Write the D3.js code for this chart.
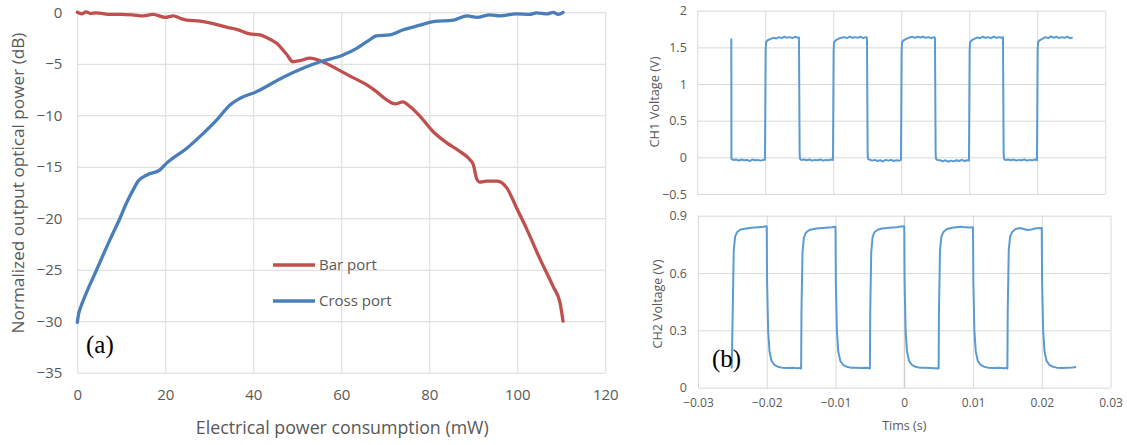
<!DOCTYPE html>
<html>
<head>
<meta charset="utf-8">
<script src="https://cdn.jsdelivr.net/npm/d3@7"></script>
<style>
  html, body { margin: 0; padding: 0; background: #fff; }
  svg { display: block; }
  text { font-family: "Open Sans", "Noto Sans", sans-serif; fill: #595959; }
  .grid line { stroke: #d9d9d9; stroke-width: 1; }
  .grid path { display: none; }
  .ticks path, .ticks line { display: none; }
</style>
</head>
<body>
<svg id="chart" width="1127" height="445"></svg>
<script>
// ---------- (a) switching curves: [power (mW), normalized output (dB)] ----------
const barPort = [
  [0, 0], [1, -0.15], [2, 0.05], [3, -0.12], [4.2, -0.05], [5.5, -0.1], [7.4, -0.2],
  [10, -0.2], [12.5, -0.25], [15, -0.35], [17.2, -0.2], [20, -0.5], [21.8, -0.35],
  [23.5, -0.6], [24.9, -0.75], [27.9, -0.85], [30.9, -1.1], [33.9, -1.45], [36.2, -1.65],
  [39.2, -2.1], [41.5, -2.2], [43, -2.45], [45.3, -3.0], [47.6, -4.1], [49, -4.8],
  [50.6, -4.7], [52.9, -4.45], [55.2, -4.7], [58.1, -5.3], [62, -6.2], [65.8, -7.05],
  [68, -7.7], [70.3, -8.5], [72.2, -8.9], [74, -8.7], [75.6, -9.15], [77.9, -10.1],
  [80.9, -11.6], [83.9, -12.65], [86.9, -13.5], [89.2, -14.3], [90, -14.8], [90.8, -16.2],
  [91.5, -16.5], [93, -16.4], [95.5, -16.4], [97.6, -17.05], [100, -19.15], [102.2, -21.1],
  [105.2, -24], [108.1, -26.6], [109.7, -28.2], [110.4, -30]
];
const crossPort = [
  [0, -30.1], [0.3, -29.3], [0.8, -28.6], [2.1, -27.2], [4.4, -25], [7.4, -22.1],
  [9.7, -20.0], [11.2, -18.5], [13.0, -17.0], [13.8, -16.4], [15.8, -15.8], [18.8, -15.3],
  [20.3, -14.65], [24.9, -13.2], [27.9, -12.05], [31.7, -10.45], [34.7, -9.0], [37, -8.35],
  [40.8, -7.7], [46.8, -6.3], [51.4, -5.4], [55.2, -4.8], [60.4, -4.15], [63.5, -3.5],
  [66, -2.8], [68, -2.3], [71, -2.2], [74.1, -1.7], [77.9, -1.25], [80.9, -0.9],
  [85.5, -0.75], [88.6, -0.35], [90.8, -0.5], [93.8, -0.25], [96, -0.35], [99.8, -0.15],
  [102.8, -0.2], [104.4, -0.05], [106.7, -0.15], [108.2, 0], [109.3, -0.2], [110.4, 0]
];
const powerTicks = [0, 20, 40, 60, 80, 100, 120];
const dbTicks = [0, -5, -10, -15, -20, -25, -30, -35];
const seriesNames = ["Bar port", "Cross port"];

// ---------- (b) oscilloscope traces: [time (s), voltage (V)] ----------
const ch1Trace = [
  [-0.0250, 1.62], [-0.02498, -0.02],
  [-0.0247, -0.035], [-0.0243, -0.03], [-0.0239, -0.045], [-0.0235, -0.03], [-0.0231, -0.04],
  [-0.0227, -0.035], [-0.0223, -0.05], [-0.0219, -0.03], [-0.0215, -0.04], [-0.0211, -0.035],
  [-0.0207, -0.045], [-0.0203, -0.035], [-0.02005, -0.03],
  [-0.01995, 1.45], [-0.0199, 1.57], [-0.0196, 1.60], [-0.0192, 1.615],
  [-0.0188, 1.63], [-0.0184, 1.62], [-0.0180, 1.64], [-0.0176, 1.625], [-0.0172, 1.645],
  [-0.0168, 1.63], [-0.0164, 1.64], [-0.0160, 1.625], [-0.0156, 1.645], [-0.0152, 1.63], [-0.01505, 1.635],
  [-0.01495, 0.05], [-0.0149, -0.02],
  [-0.0147, -0.035], [-0.0143, -0.03], [-0.0139, -0.04], [-0.0135, -0.03], [-0.0131, -0.045],
  [-0.0127, -0.035], [-0.0123, -0.04], [-0.0119, -0.03], [-0.0115, -0.045], [-0.0111, -0.035],
  [-0.0107, -0.04], [-0.0103, -0.03], [-0.01005, -0.035],
  [-0.00995, 1.45], [-0.0099, 1.57], [-0.0096, 1.60], [-0.0092, 1.62],
  [-0.0088, 1.63], [-0.0084, 1.64], [-0.0080, 1.625], [-0.0076, 1.645], [-0.0072, 1.63],
  [-0.0068, 1.64], [-0.0064, 1.63], [-0.0060, 1.645], [-0.0056, 1.625], [-0.0052, 1.64], [-0.00505, 1.63],
  [-0.00495, 0.05], [-0.0049, -0.02],
  [-0.0047, -0.03], [-0.0043, -0.045], [-0.0039, -0.035], [-0.0035, -0.05], [-0.0031, -0.04],
  [-0.0027, -0.055], [-0.0023, -0.035], [-0.0019, -0.045], [-0.0015, -0.035], [-0.0011, -0.05],
  [-0.0007, -0.04], [-0.0003, -0.045], [-0.00005, -0.035],
  [0.00005, 1.45], [0.0001, 1.57], [0.0004, 1.60], [0.0008, 1.62],
  [0.0012, 1.635], [0.0016, 1.645], [0.0020, 1.63], [0.0024, 1.645], [0.0028, 1.635],
  [0.0032, 1.645], [0.0036, 1.63], [0.0040, 1.64], [0.0044, 1.625], [0.0048, 1.64], [0.00495, 1.63],
  [0.00505, 0.05], [0.0051, -0.02],
  [0.0053, -0.035], [0.0057, -0.04], [0.0061, -0.055], [0.0065, -0.04], [0.0069, -0.06],
  [0.0073, -0.045], [0.0077, -0.055], [0.0081, -0.04], [0.0085, -0.05], [0.0089, -0.035],
  [0.0093, -0.05], [0.0097, -0.04], [0.00995, -0.045],
  [0.01005, 1.45], [0.0101, 1.57], [0.0104, 1.60], [0.0108, 1.62],
  [0.0112, 1.635], [0.0116, 1.625], [0.0120, 1.645], [0.0124, 1.63], [0.0128, 1.64],
  [0.0132, 1.625], [0.0136, 1.645], [0.0140, 1.63], [0.0144, 1.64], [0.0148, 1.63], [0.01495, 1.64],
  [0.01505, 0.05], [0.0151, -0.02],
  [0.0153, -0.035], [0.0157, -0.03], [0.0161, -0.04], [0.0165, -0.03], [0.0169, -0.045],
  [0.0173, -0.035], [0.0177, -0.04], [0.0181, -0.03], [0.0185, -0.045], [0.0189, -0.035],
  [0.0193, -0.04], [0.0197, -0.03], [0.01995, -0.04],
  [0.02005, 1.45], [0.0201, 1.57], [0.0204, 1.60], [0.0208, 1.62],
  [0.0212, 1.64], [0.0216, 1.625], [0.0220, 1.65], [0.0224, 1.63], [0.0228, 1.645],
  [0.0232, 1.625], [0.0236, 1.64], [0.0240, 1.63], [0.0244, 1.645], [0.0248, 1.625], [0.0252, 1.635]
];
const ch2Trace = [
  [-0.0251, 0.10], [-0.02495, 0.40], [-0.0248, 0.72], [-0.0246, 0.79], [-0.0243, 0.815],
  [-0.0238, 0.828], [-0.0232, 0.832], [-0.0225, 0.836], [-0.0218, 0.838], [-0.0211, 0.84],
  [-0.0205, 0.842], [-0.02005, 0.845],
  [-0.0200, 0.84], [-0.01995, 0.55], [-0.0198, 0.30], [-0.0196, 0.19], [-0.0193, 0.14],
  [-0.0189, 0.12], [-0.0184, 0.11], [-0.0178, 0.105], [-0.0170, 0.103], [-0.0162, 0.105],
  [-0.0155, 0.102], [-0.01505, 0.104],
  [-0.0150, 0.10], [-0.01495, 0.40], [-0.0148, 0.71], [-0.0146, 0.785], [-0.0143, 0.812],
  [-0.0138, 0.825], [-0.0132, 0.83], [-0.0125, 0.834], [-0.0118, 0.836], [-0.0111, 0.838],
  [-0.0105, 0.84], [-0.01005, 0.842],
  [-0.0100, 0.84], [-0.00995, 0.55], [-0.0098, 0.30], [-0.0096, 0.19], [-0.0093, 0.14],
  [-0.0089, 0.12], [-0.0084, 0.11], [-0.0078, 0.105], [-0.0070, 0.104], [-0.0062, 0.103],
  [-0.0055, 0.104], [-0.00505, 0.102],
  [-0.0050, 0.10], [-0.00495, 0.40], [-0.0048, 0.71], [-0.0046, 0.79], [-0.0043, 0.815],
  [-0.0038, 0.828], [-0.0032, 0.833], [-0.0025, 0.836], [-0.0018, 0.838], [-0.0011, 0.84],
  [-0.0005, 0.843], [-0.00005, 0.845],
  [0.0000, 0.84], [0.00005, 0.55], [0.0002, 0.30], [0.0004, 0.19], [0.0007, 0.14],
  [0.0011, 0.12], [0.0016, 0.11], [0.0022, 0.105], [0.0030, 0.104], [0.0038, 0.103],
  [0.0045, 0.102], [0.00495, 0.10],
  [0.0050, 0.10], [0.00505, 0.40], [0.0052, 0.72], [0.0054, 0.79], [0.0057, 0.815],
  [0.0062, 0.83], [0.0068, 0.836], [0.0075, 0.84], [0.0082, 0.842], [0.0089, 0.84],
  [0.0095, 0.838], [0.00995, 0.84],
  [0.0100, 0.835], [0.01005, 0.55], [0.0102, 0.30], [0.0104, 0.19], [0.0107, 0.14],
  [0.0111, 0.12], [0.0116, 0.11], [0.0122, 0.105], [0.0130, 0.103], [0.0138, 0.104],
  [0.0145, 0.102], [0.01495, 0.104],
  [0.0150, 0.10], [0.01505, 0.40], [0.0152, 0.72], [0.0154, 0.79], [0.0157, 0.815],
  [0.0162, 0.83], [0.0168, 0.836], [0.0174, 0.83], [0.0179, 0.825], [0.0185, 0.828],
  [0.0192, 0.834], [0.01995, 0.836],
  [0.0200, 0.835], [0.02005, 0.55], [0.0202, 0.30], [0.0204, 0.19], [0.0207, 0.14],
  [0.0211, 0.12], [0.0216, 0.11], [0.0222, 0.105], [0.0230, 0.103], [0.0238, 0.105],
  [0.0245, 0.106], [0.0250, 0.108]
];
const timeTicks = [-0.03, -0.02, -0.01, 0, 0.01, 0.02, 0.03];
const ch1Ticks = [2, 1.5, 1, 0.5, 0, -0.5];
const ch2Ticks = [0.9, 0.6, 0.3, 0];

const svg = d3.select("#chart");

// ---------------- panel (a) ----------------
const xA = d3.scaleLinear().domain([0, 120]).range([77.3, 605.3]);
const yA = d3.scaleLinear().domain([-35, 0]).range([372.7, 12.3]);
const gA = svg.append("g");

gA.append("g").attr("class", "grid")
  .attr("transform", `translate(0,${yA(-35)})`)
  .call(d3.axisBottom(xA).tickValues(powerTicks).tickSize(-(yA(-35) - yA(0))).tickFormat(""));
gA.append("g").attr("class", "grid")
  .attr("transform", `translate(${xA(0)},0)`)
  .call(d3.axisLeft(yA).tickValues(dbTicks).tickSize(-(xA(120) - xA(0))).tickFormat(""));

gA.append("g").attr("class", "ticks")
  .attr("transform", `translate(0,${yA(-35)})`)
  .call(d3.axisBottom(xA).tickValues(powerTicks).tickSize(0).tickPadding(17).tickFormat(d3.format("d")))
  .call(g => g.selectAll("text").style("font-size", "15px").attr("fill", "#595959"));
gA.append("g").attr("class", "ticks")
  .attr("transform", `translate(${xA(0)},0)`)
  .call(d3.axisLeft(yA).tickValues(dbTicks).tickSize(0).tickPadding(15).tickFormat(d3.format("d")))
  .call(g => g.selectAll("text").style("font-size", "15px").attr("fill", "#595959"));

const lineA = d3.line().x(d => xA(d[0])).y(d => yA(d[1])).curve(d3.curveMonotoneX);
const colorsA = ["#c0504d", "#4a7ebb"];
[barPort, crossPort].forEach((s, i) => {
  gA.append("path").datum(s)
    .attr("fill", "none").attr("stroke", colorsA[i]).attr("stroke-width", 3.3)
    .attr("stroke-linejoin", "round").attr("stroke-linecap", "round")
    .attr("d", lineA);
});

// legend
const leg = gA.append("g");
seriesNames.forEach((name, i) => {
  const yy = 265 + i * 36;
  leg.append("line").attr("x1", 273).attr("x2", 315).attr("y1", yy).attr("y2", yy)
    .attr("stroke", colorsA[i]).attr("stroke-width", 3.3);
  leg.append("text").attr("x", 319).attr("y", yy).attr("dy", "0.35em")
    .style("font-size", "15px").text(name);
});

gA.append("text").attr("x", (xA(0) + xA(120)) / 2 + 1).attr("y", 428).attr("dy", "0.35em")
  .attr("text-anchor", "middle").style("font-size", "17.8px")
  .text("Electrical power consumption (mW)");
gA.append("text").attr("transform", "translate(18,183) rotate(-90)")
  .attr("dy", "0.35em").attr("text-anchor", "middle").style("font-size", "17.2px")
  .text("Normalized output optical power (dB)");
gA.append("text").attr("x", 86).attr("y", 353)
  .style("font-family", "'Liberation Serif', 'Times New Roman', serif").style("font-size", "25px")
  .style("fill", "#000").text("(a)");

// ---------------- panel (b), CH1 ----------------
const xB1 = d3.scaleLinear().domain([-0.03, 0.03]).range([697.3, 1105.3]);
const yB1 = d3.scaleLinear().domain([-0.5, 2]).range([194, 10.7]);
const gB1 = svg.append("g");
gB1.append("g").attr("class", "grid")
  .attr("transform", `translate(0,${yB1(-0.5)})`)
  .call(d3.axisBottom(xB1).tickValues(timeTicks).tickSize(-(yB1(-0.5) - yB1(2))).tickFormat(""));
gB1.append("g").attr("class", "grid")
  .attr("transform", `translate(${xB1(-0.03)},0)`)
  .call(d3.axisLeft(yB1).tickValues(ch1Ticks).tickSize(-(xB1(0.03) - xB1(-0.03))).tickFormat(""));
gB1.append("g").attr("class", "ticks")
  .attr("transform", `translate(${xB1(-0.03)},0)`)
  .call(d3.axisLeft(yB1).tickValues(ch1Ticks).tickSize(0).tickPadding(10.5).tickFormat(d3.format("")))
  .call(g => g.selectAll("text").style("font-size", "12.5px").attr("fill", "#595959"));
const lineB1 = d3.line().x(d => xB1(d[0])).y(d => yB1(d[1]));
gB1.append("path").datum(ch1Trace)
  .attr("fill", "none").attr("stroke", "#5b9bd5").attr("stroke-width", 2)
  .attr("stroke-linejoin", "round").attr("d", lineB1);
gB1.append("text").attr("transform", "translate(655,102) rotate(-90)")
  .attr("dy", "0.35em").attr("text-anchor", "middle").style("font-size", "12.8px")
  .text("CH1 Voltage (V)");

// ---------------- panel (b), CH2 ----------------
const xB2 = d3.scaleLinear().domain([-0.03, 0.03]).range([698, 1110.5]);
const yB2 = d3.scaleLinear().domain([0, 0.9]).range([387.7, 215.7]);
const gB2 = svg.append("g");
gB2.append("g").attr("class", "grid")
  .attr("transform", `translate(0,${yB2(0)})`)
  .call(d3.axisBottom(xB2).tickValues(timeTicks).tickSize(-(yB2(0) - yB2(0.9))).tickFormat(""));
gB2.append("g").attr("class", "grid")
  .attr("transform", `translate(${xB2(-0.03)},0)`)
  .call(d3.axisLeft(yB2).tickValues(ch2Ticks).tickSize(-(xB2(0.03) - xB2(-0.03))).tickFormat(""));
// value axis crossing at t = 0
gB2.append("line").attr("x1", xB2(0)).attr("x2", xB2(0)).attr("y1", yB2(0)).attr("y2", yB2(0.9))
  .attr("stroke", "#c8c8c8").attr("stroke-width", 1);
gB2.append("g").attr("class", "ticks")
  .attr("transform", `translate(0,${yB2(0)})`)
  .call(d3.axisBottom(xB2).tickValues(timeTicks).tickSize(0).tickPadding(10.5).tickFormat(d3.format("")))
  .call(g => g.selectAll("text").style("font-size", "12px").attr("fill", "#595959"));
gB2.append("g").attr("class", "ticks")
  .attr("transform", `translate(${xB2(-0.03)},0)`)
  .call(d3.axisLeft(yB2).tickValues(ch2Ticks).tickSize(0).tickPadding(11).tickFormat(d3.format("")))
  .call(g => g.selectAll("text").style("font-size", "12.5px").attr("fill", "#595959"));
const lineB2 = d3.line().x(d => xB2(d[0])).y(d => yB2(d[1]));
gB2.append("path").datum(ch2Trace)
  .attr("fill", "none").attr("stroke", "#5b9bd5").attr("stroke-width", 2)
  .attr("stroke-linejoin", "round").attr("d", lineB2);
gB2.append("text").attr("transform", "translate(658,304) rotate(-90)")
  .attr("dy", "0.35em").attr("text-anchor", "middle").style("font-size", "12.5px")
  .text("CH2 Voltage (V)");
gB2.append("text").attr("x", xB2(0)).attr("y", 426).attr("dy", "0.35em")
  .attr("text-anchor", "middle").style("font-size", "12.5px").text("Tims (s)");
gB2.append("text").attr("x", 712).attr("y", 367)
  .style("font-family", "'Liberation Serif', 'Times New Roman', serif").style("font-size", "25px")
  .style("fill", "#000").text("(b)");
</script>
</body>
</html>
